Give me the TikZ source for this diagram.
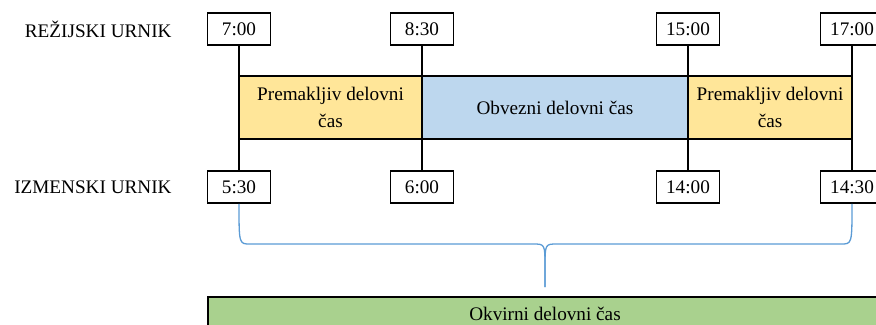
\documentclass[tikz,border=0pt]{standalone}
\usepackage{fontspec}
\setmainfont{Liberation Serif}
\usepackage{tikz}

\definecolor{premak}{HTML}{FFE699}
\definecolor{obvez}{HTML}{BDD7EE}
\definecolor{okvir}{HTML}{A9D18E}
\definecolor{oklep}{HTML}{5B9BD5}

\begin{document}
\begin{tikzpicture}[x=0.5pt,y=-0.5pt,
    font=\fontsize{9.6}{13.5}\selectfont]

      \clip (0,0) rectangle (876,325);

      \node[anchor=east,inner sep=0pt] (lr) at (172,29) {REŽIJSKI URNIK};
      \node[anchor=east,inner sep=0pt] (li) at (172,187) {IZMENSKI URNIK};

      \begin{scope}[every node/.style={draw,line width=0.8pt,fill=white,
          minimum width=31.5pt,minimum height=16pt,inner sep=0pt}]
        \node (r700) at (239,29) {7:00};
        \node (r830) at (422,29) {8:30};
        \node (r1500) at (688,29) {15:00};
        \node (r1700) at (852,29) {17:00};
        \node (i530) at (239,187) {5:30};
        \node (i600) at (422,187) {6:00};
        \node (i1400) at (688,187) {14:00};
        \node (i1430) at (852,187) {14:30};
      \end{scope}

      \begin{scope}[every edge/.style={draw=black,line width=0.9pt}]
        \path (r700) edge (i530);
        \path (r830) edge (i600);
        \path (r1500) edge (i1400);
        \path (r1700) edge (i1430);
      \end{scope}

      \begin{scope}[every node/.style={draw,line width=0.75pt,
          minimum height=31.5pt,inner sep=0pt,align=center}]
        \node[fill=premak,minimum width=91.5pt] (p1) at (330.5,107.5)
          {Premakljiv delovni\\čas};
        \node[fill=obvez,minimum width=133pt] (obv) at (555,107.5)
          {Obvezni delovni čas};
        \node[fill=premak,minimum width=82pt] (p2) at (770,107.5)
          {Premakljiv delovni\\čas};
      \end{scope}

      \coordinate (tip) at (545,287);
      \draw[oklep,line width=0.65pt] (i530.south) .. controls (239,244) .. (250,244)
        -- (533,244) .. controls (545,244) .. (545,268) -- (tip);
      \draw[oklep,line width=0.65pt] (i1430.south) .. controls (852,244) .. (841,244)
        -- (557,244) .. controls (545,244) .. (545,268) -- (tip);

      \node[draw,line width=0.8pt,fill=okvir,minimum width=337pt,
        minimum height=17pt,inner sep=0pt] (okv) at (545,314) {Okvirni delovni čas};

    \end{tikzpicture}
\end{document}
